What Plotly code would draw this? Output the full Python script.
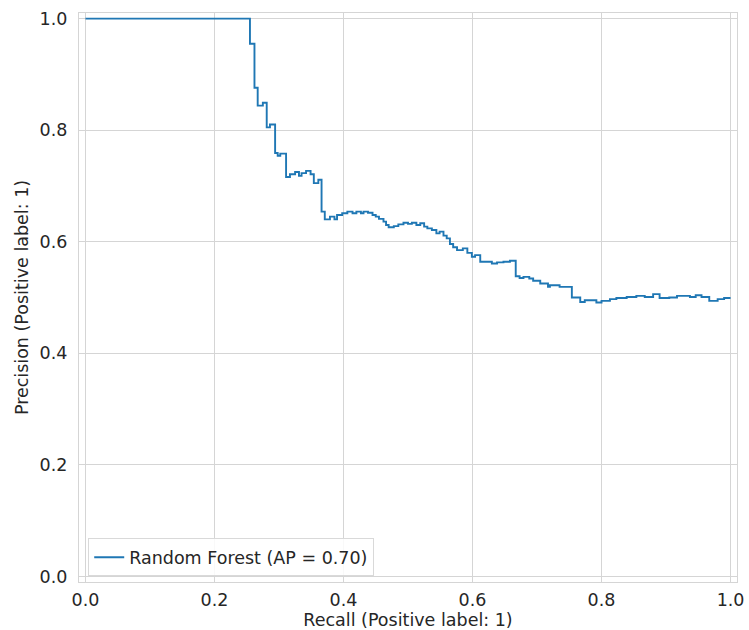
import plotly.graph_objects as go

# Precision-recall curve of the random forest classifier (step breakpoints)
recall = [
    0.000, 0.255, 0.262, 0.267, 0.275, 0.281, 0.286, 0.294, 0.298, 0.302,
    0.311, 0.317, 0.325, 0.331, 0.335, 0.342, 0.349, 0.354, 0.361, 0.366,
    0.371, 0.379, 0.386, 0.390, 0.398, 0.406, 0.414, 0.420, 0.427, 0.431,
    0.438, 0.445, 0.450, 0.455, 0.462, 0.466, 0.470, 0.478, 0.485, 0.493,
    0.500, 0.506, 0.513, 0.519, 0.525, 0.530, 0.537, 0.544, 0.549, 0.555,
    0.560, 0.565, 0.570, 0.576, 0.585, 0.592, 0.599, 0.604, 0.612, 0.630,
    0.638, 0.648, 0.658, 0.667, 0.673, 0.679, 0.688, 0.694, 0.705, 0.717,
    0.720, 0.735, 0.754, 0.767, 0.774, 0.792, 0.800, 0.813, 0.823, 0.839,
    0.854, 0.867, 0.880, 0.890, 0.905, 0.917, 0.937, 0.946, 0.955, 0.967,
    0.980, 0.990, 1.000,
]
precision = [
    1.000, 0.955, 0.876, 0.844, 0.849, 0.805, 0.810, 0.759, 0.754, 0.758,
    0.716, 0.721, 0.725, 0.718, 0.723, 0.727, 0.721, 0.705, 0.711, 0.654,
    0.640, 0.645, 0.640, 0.648, 0.651, 0.654, 0.651, 0.654, 0.651, 0.654,
    0.652, 0.648, 0.645, 0.641, 0.636, 0.630, 0.626, 0.628, 0.631, 0.634,
    0.632, 0.634, 0.630, 0.633, 0.627, 0.624, 0.621, 0.615, 0.618, 0.611,
    0.606, 0.596, 0.590, 0.585, 0.588, 0.580, 0.573, 0.576, 0.564, 0.561,
    0.563, 0.564, 0.566, 0.538, 0.535, 0.537, 0.534, 0.530, 0.525, 0.519,
    0.522, 0.519, 0.500, 0.492, 0.495, 0.491, 0.494, 0.497, 0.499, 0.501,
    0.503, 0.501, 0.506, 0.499, 0.500, 0.503, 0.501, 0.504, 0.501, 0.494,
    0.497, 0.499, 0.499,
]
average_precision = 0.70
tick_values = [0.0, 0.2, 0.4, 0.6, 0.8, 1.0]

FONT = "DejaVu Sans"
TEXT = "#262626"
GRID = "#d5d5d5"
FS = 17.5

fig = go.Figure()
fig.add_trace(go.Scatter(
    x=recall, y=precision,
    mode="lines",
    line=dict(color="#1f77b4", width=1.9, shape="hv"),
    name=f"Random Forest (AP = {average_precision:.2f})",
))

axis_common = dict(
    range=[-0.01, 1.01],
    tickvals=tick_values,
    tickformat=".1f",
    showgrid=True, gridcolor=GRID, gridwidth=1.2,
    zeroline=False,
    showline=True, linecolor=GRID, linewidth=1.2, mirror=True,
    ticks="",
    tickfont=dict(family=FONT, size=FS, color=TEXT),
    automargin=False,
)

fig.update_xaxes(
    **axis_common,
    ticklabelstandoff=2,
    title=dict(text="Recall (Positive label: 1)",
               font=dict(family=FONT, size=FS, color=TEXT), standoff=2),
)
fig.update_yaxes(
    **axis_common,
    ticklabelstandoff=7,
    title=dict(text="Precision (Positive label: 1)",
               font=dict(family=FONT, size=FS, color=TEXT), standoff=6),
)

fig.update_layout(
    width=749, height=630,
    margin=dict(l=79, r=12, t=13, b=48),
    paper_bgcolor="white", plot_bgcolor="white",
    showlegend=True,
    legend=dict(
        x=0.014, y=0.01, xanchor="left", yanchor="bottom",
        bgcolor="rgba(255,255,255,0.85)",
        bordercolor="#d9d9d9", borderwidth=1,
        font=dict(family=FONT, size=FS, color=TEXT),
    ),
)

fig.write_html("out.html")
